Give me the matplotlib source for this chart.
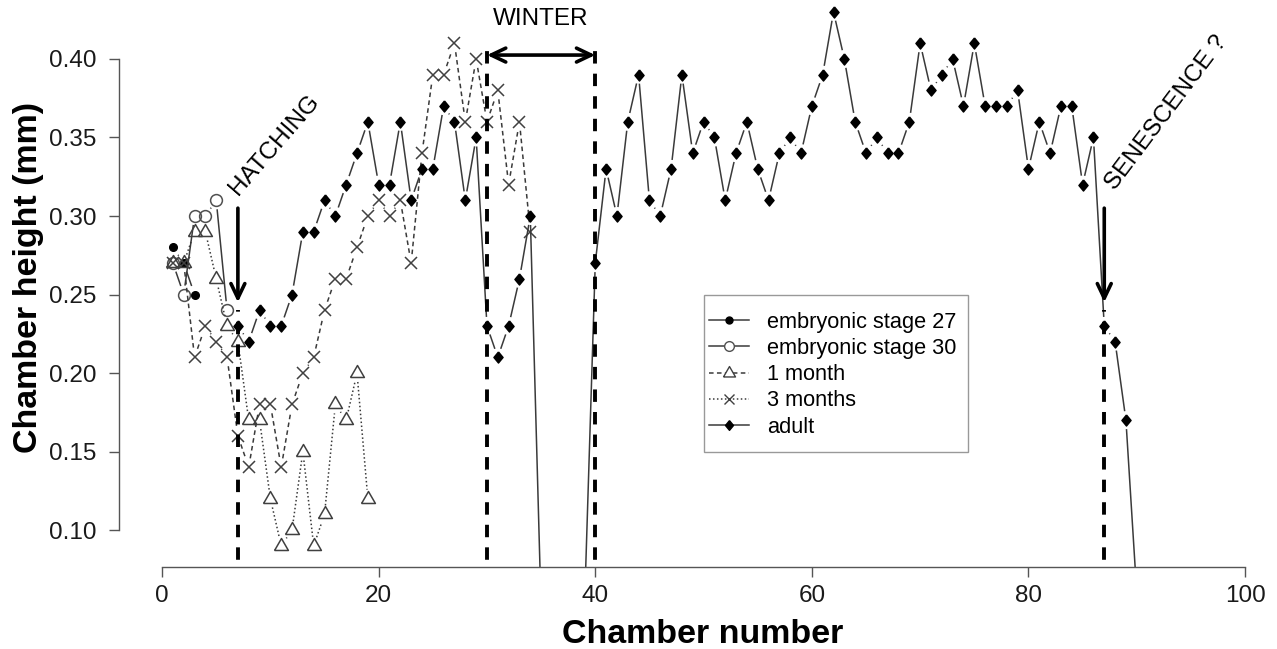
import numpy as np
import matplotlib.pyplot as plt
from matplotlib.collections import LineCollection
from matplotlib.lines import Line2D
from matplotlib.patches import Rectangle

plt.rcParams['font.family'] = ['Liberation Sans', 'DejaVu Sans']

# chamber heights (mm)
stage27_n = [1, 2, 3]
stage27_h = [0.28, 0.27, 0.25]

stage30_n = [1, 2, 3, 4, 5, 6]
stage30_h = [0.27, 0.25, 0.30, 0.30, 0.31, 0.24]

month1_n = list(range(1, 20))
month1_h = [0.27, 0.27, 0.29, 0.29, 0.26, 0.23, 0.22, 0.17, 0.17, 0.12,
            0.09, 0.10, 0.15, 0.09, 0.11, 0.18, 0.17, 0.20, 0.12]

month3_n = list(range(1, 35))
month3_h = [0.27, 0.27, 0.21, 0.23, 0.22, 0.21, 0.16, 0.14, 0.18, 0.18,
            0.14, 0.18, 0.20, 0.21, 0.24, 0.26, 0.26, 0.28, 0.30, 0.31,
            0.30, 0.31, 0.27, 0.34, 0.39, 0.39, 0.41, 0.36, 0.40, 0.36,
            0.38, 0.32, 0.36, 0.29]

adult_n = list(range(7, 91))
adult_h = [0.23, 0.22, 0.24, 0.23, 0.23, 0.25, 0.29, 0.29, 0.31, 0.30,   # 7-16
           0.32, 0.34, 0.36, 0.32, 0.32, 0.36, 0.31, 0.33, 0.33, 0.37,   # 17-26
           0.36, 0.31, 0.35, 0.23, 0.21, 0.23, 0.26, 0.30,               # 27-34
           0.05, 0.05, 0.05, 0.05, 0.05,                                 # 35-39 (off scale)
           0.27, 0.33, 0.30, 0.36, 0.39, 0.31, 0.30, 0.33, 0.39, 0.34,   # 40-49
           0.36, 0.35, 0.31, 0.34, 0.36, 0.33, 0.31, 0.34, 0.35, 0.34,   # 50-59
           0.37, 0.39, 0.43, 0.40, 0.36, 0.34, 0.35, 0.34, 0.34, 0.36,   # 60-69
           0.41, 0.38, 0.39, 0.40, 0.37, 0.41, 0.37, 0.37, 0.37, 0.38,   # 70-79
           0.33, 0.36, 0.34, 0.37, 0.37, 0.32, 0.35, 0.23, 0.22, 0.17,   # 80-89
           0.06]                                                         # 90

legend_labels = ['embryonic stage 27', 'embryonic stage 30', '1 month',
                 '3 months', 'adult']

lc = '#3a3a3a'
tri = [(-1, -0.577), (1, -0.577), (0, 1.155), (-1, -0.577)]
dia = [(0, 1.15), (0.95, 0), (0, -1.15), (-0.95, 0), (0, 1.15)]


def gapped(ax, n, h, gap=9, **kw):
    # R type="b": segments stop short of the points
    pts = ax.transData.transform(np.column_stack([n, h]))
    inv = ax.transData.inverted()
    segs = []
    for p0, p1 in zip(pts[:-1], pts[1:]):
        d = p1 - p0
        L = np.hypot(*d)
        if L <= 2 * gap:
            continue
        u = d / L
        segs.append(inv.transform([p0 + u * gap, p1 - u * gap]))
    ax.add_collection(LineCollection(segs, **kw))


fig = plt.figure(figsize=(12.77, 6.49), dpi=100)
ax = fig.add_axes([0.0930, 0.1262, 0.9159, 0.8884])
ax.set_xlim(-4, 104)
ax.set_ylim(0.0764, 0.4436)

# series
gapped(ax, stage27_n, stage27_h, color=lc, lw=1.1)
ax.plot(stage27_n, stage27_h, ls='none', marker='o', ms=5.5, mfc='k', mec='k')

gapped(ax, stage30_n, stage30_h, color=lc, lw=1.1)
ax.plot(stage30_n, stage30_h, ls='none', marker='o', ms=8.5, mfc='none',
        mec='#505050', mew=1.1)

gapped(ax, month1_n, month1_h, color=lc, lw=1.1, linestyle=(0, (1, 1.6)))
ax.plot(month1_n, month1_h, ls='none', marker=tri, ms=11.5, mfc='none',
        mec='#404040', mew=1.1)

gapped(ax, month3_n, month3_h, color=lc, lw=1.1, linestyle=(0, (3, 2.2)))
ax.plot(month3_n, month3_h, ls='none', marker='x', ms=8.5, mec='#404040', mew=1.1)

gapped(ax, adult_n, adult_h, color=lc, lw=1.1)
ax.plot(adult_n, adult_h, ls='none', marker=dia, ms=8, mfc='k', mec='k')

# events
dash = (0, (3.2, 2.6))
for c, top in [(7, 0.24), (30, 0.406), (40, 0.406), (87, 0.24)]:
    ax.plot([c, c], [0, top], color='k', lw=2.8, linestyle=dash)

arrow = dict(arrowstyle='->,head_length=1.05,head_width=0.5', color='k', lw=2.6,
             shrinkA=0, shrinkB=0, mutation_scale=10)
ax.annotate('', xy=(7, 0.245), xytext=(7, 0.305), arrowprops=arrow)
ax.annotate('', xy=(87, 0.245), xytext=(87, 0.305), arrowprops=arrow)
arrow2 = dict(arrow, arrowstyle='<->,head_length=1.05,head_width=0.5')
ax.annotate('', xy=(40, 0.4025), xytext=(30, 0.4025), arrowprops=arrow2)

ax.text(35, 0.4255, 'WINTER', ha='center', va='center', fontsize=17.5)
ax.text(7.0, 0.313, 'HATCHING', rotation=49, rotation_mode='anchor',
        ha='left', va='baseline', fontsize=17.5)
ax.text(88.0, 0.316, 'SENESCENCE ?', rotation=53, rotation_mode='anchor',
        ha='left', va='baseline', fontsize=17.5)

# legend
ax.add_patch(Rectangle((50, 0.15), 24.4, 0.10, facecolor='white',
                       edgecolor='#999999', lw=1, zorder=4))
handles = [
    Line2D([], [], color=lc, lw=1.1, marker='o', ms=5, mfc='k', mec='k'),
    Line2D([], [], color=lc, lw=1.1, marker='o', ms=7, mfc='white', mec='#505050'),
    Line2D([], [], color=lc, lw=1.1, ls=(0, (3, 2.2)), marker=tri, ms=10,
           mfc='white', mec='#404040'),
    Line2D([], [], color=lc, lw=1.1, ls=(0, (1, 1.6)), marker='x', ms=7,
           mec='#404040'),
    Line2D([], [], color=lc, lw=1.1, marker=dia, ms=7, mfc='k', mec='k'),
]
leg = ax.legend(handles, legend_labels, loc='upper left',
                bbox_to_anchor=(50.5, 0.2390), bbox_transform=ax.transData,
                frameon=False, borderpad=0, borderaxespad=0, fontsize=15.7,
                handlelength=1.85, handletextpad=0.8, labelspacing=0.24,
                numpoints=1)
leg.set_zorder(5)

# axes in R style
for s in ['top', 'right']:
    ax.spines[s].set_visible(False)
ax.spines['left'].set_bounds(0.10, 0.40)
ax.spines['bottom'].set_bounds(0, 100)
for s in ['left', 'bottom']:
    ax.spines[s].set_color('#555555')
    ax.spines[s].set_linewidth(1)
ax.set_xticks([0, 20, 40, 60, 80, 100])
ax.set_yticks([0.10, 0.15, 0.20, 0.25, 0.30, 0.35, 0.40])
ax.set_yticklabels(['%.2f' % v for v in ax.get_yticks()])
ax.tick_params(direction='out', length=7.2, width=1, color='#555555',
               labelsize=17.5, labelcolor='#1a1a1a')
ax.tick_params(axis='x', pad=5.8)
ax.tick_params(axis='y', pad=8.6)

fig.text(0.5505, 0.0092, 'Chamber number', ha='center', va='baseline',
         fontsize=24.5, fontweight='bold')
fig.text(0.0227, 0.5724, 'Chamber height (mm)', ha='center', va='center',
         rotation=90, fontsize=24.5, fontweight='bold')

fig.savefig('out.png', dpi=100)
